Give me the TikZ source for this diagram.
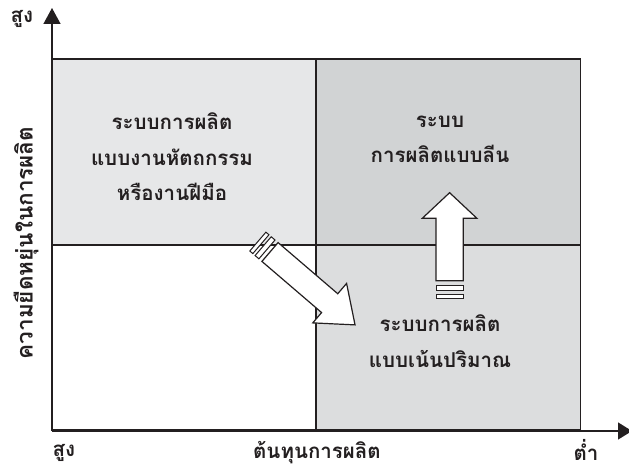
\documentclass[tikz,border=0pt]{standalone}
\usepackage{fontspec}
\usetikzlibrary{arrows.meta}
\newfontfamily\thaifont[Script=Thai]{Loma}
\definecolor{qA}{HTML}{E6E7E8}
\definecolor{qB}{HTML}{D1D3D4}
\definecolor{qC}{HTML}{DCDDDE}
\definecolor{ink}{HTML}{231F20}
\begin{document}
\begin{tikzpicture}[x=1pt,y=-1pt,
  quad/.style={draw=ink, line width=1.6pt, inner sep=0pt, minimum width=264pt},
  qtext/.style={text=ink, align=center, font=\thaifont\bfseries\fontsize{20.5}{35.5}\selectfont},
  axlabel/.style={text=ink, font=\thaifont\bfseries\fontsize{20.5}{20}\selectfont},
  axis/.style={draw=ink, line width=1.4pt},
  bigarrow/.style={draw=ink, fill=white, line width=1.2pt, line join=miter}]
\useasboundingbox (0,0) rectangle (629,470);
% quadrants
\node[quad, fill=qA, minimum height=186pt] (tl) at (184,152.2) {};
\node[quad, fill=qB, minimum height=186pt] (tr) at (448.5,152.2) {};
\node[quad, fill=white, minimum height=185pt] (bl) at (184,337.7) {};
\node[quad, fill=qC, minimum height=185pt] (br) at (448.5,337.7) {};
% axes
\coordinate (o) at (52,431);
\coordinate (ytip) at (52,8);
\coordinate (xtip) at (632,431);
\draw[axis, -{Triangle[length=16pt,width=17pt]}] (o) -- (ytip);
\draw[axis, -{Triangle[length=14pt,width=17pt]}] (o) -- (xtip);
% quadrant texts
\node[qtext] (ttl) at (172,157) {ระบบการผลิต\\แบบงานหัตถกรรม\\หรืองานฝีมือ};
\node[qtext] (ttr) at (440,139.5) {ระบบ\\การผลิตแบบลีน};
\node[qtext] (tbr) at (440,341) {ระบบการผลิต\\แบบเน้นปริมาณ};
% axis labels
\node[axlabel] (yhigh) at (22,19) {สูง};
\node[axlabel] (xhigh) at (64,453) {สูง};
\node[axlabel] (xmid) at (317,453) {ต้นทุนการผลิต};
\node[axlabel] (xlow) at (586,450) {ต่ำ};
\node[axlabel, rotate=90, font=\thaifont\bfseries\fontsize{22.5}{20}\selectfont] (ylab) at (26,243) {ความยืดหยุ่นในการผลิต};
% up arrow
\begin{scope}[shift={(449.6,280.7)}, rotate=90]
  \draw[bigarrow] (0,13.6) -- (62.4,13.6) -- (62.4,27.3) -- (88,0) -- (62.4,-27.3) -- (62.4,-13.6) -- (0,-13.6) -- cycle;
  \draw[bigarrow, line width=1pt] (-4.6,-13.6) rectangle (-10.3,13.6);
  \draw[bigarrow, line width=1pt] (-13.6,-13.6) rectangle (-18,13.6);
\end{scope}
% diagonal arrow
\begin{scope}[shift={(270,252)}, rotate=-40.6]
  \draw[bigarrow] (0,12.4) -- (78.6,12.4) -- (78.6,26) -- (112,0) -- (78.6,-26) -- (78.6,-12.4) -- (0,-12.4) -- cycle;
  \draw[bigarrow, line width=1pt] (-4,-12.4) rectangle (-9,12.4);
  \draw[bigarrow, line width=1pt] (-12,-12.4) rectangle (-16,12.4);
\end{scope}
\end{tikzpicture}
\end{document}
